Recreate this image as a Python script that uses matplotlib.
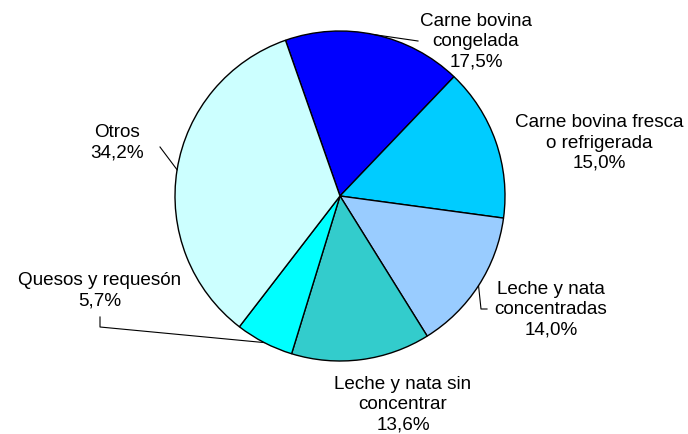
import numpy as np
import matplotlib
matplotlib.use("Agg")
import matplotlib.pyplot as plt

labels = ["Carne bovina\ncongelada", "Carne bovina fresca\no refrigerada", "Leche y nata\nconcentradas",
          "Leche y nata sin\nconcentrar", "Quesos y requesón", "Otros"]
values = [17.5, 15.0, 14.0, 13.6, 5.7, 34.2]
colors = ["#0000FF", "#00CCFF", "#99CCFF", "#33CCCC", "#00FFFF", "#CCFFFF"]

W, H = 688, 435
fig = plt.figure(figsize=(W / 100, H / 100), dpi=100)
ax = fig.add_axes([0, 0, 1, 1])

cx, cy, R = 340, H - 197, 165
start = 109.3
wedges, _ = ax.pie(values, colors=colors, startangle=start, counterclock=False,
                   center=(cx, cy), radius=R, frame=True,
                   wedgeprops=dict(edgecolor="black", linewidth=1.0))
ax.set_xlim(0, W)
ax.set_ylim(0, H)
ax.set_aspect("equal")
ax.axis("off")

# label centers (pixel coords, y from top) and leader-line bend points
label_pos = [(476, 42), (599, 143), (551, 310), (403, 405), (100, 291), (117, 143)]
leaders = [[(418, 42)], None, [(481, 310), (487, 310)], None, [(100, 328), (100, 318)], [(160, 148)]]

def fmt(v):
    return f"{v:.1f}".replace(".", ",") + "%"

frac = np.cumsum([0] + values) / sum(values)
for i, (lab, v) in enumerate(zip(labels, values)):
    mid = start - 360 * (frac[i] + frac[i + 1]) / 2
    ex = cx + R * np.cos(np.radians(mid))
    ey = cy + R * np.sin(np.radians(mid))
    lx, ly = label_pos[i]
    ax.text(lx, H - ly, lab + "\n" + fmt(v), ha="center", va="center",
            fontsize=13.6, family="Liberation Sans", linespacing=1.24)
    if leaders[i]:
        pts = [(ex, ey)] + [(px, H - py) for px, py in leaders[i]]
        xs, ys = zip(*pts)
        ax.plot(xs, ys, color="black", linewidth=0.8)

fig.savefig("out.png", dpi=100)
